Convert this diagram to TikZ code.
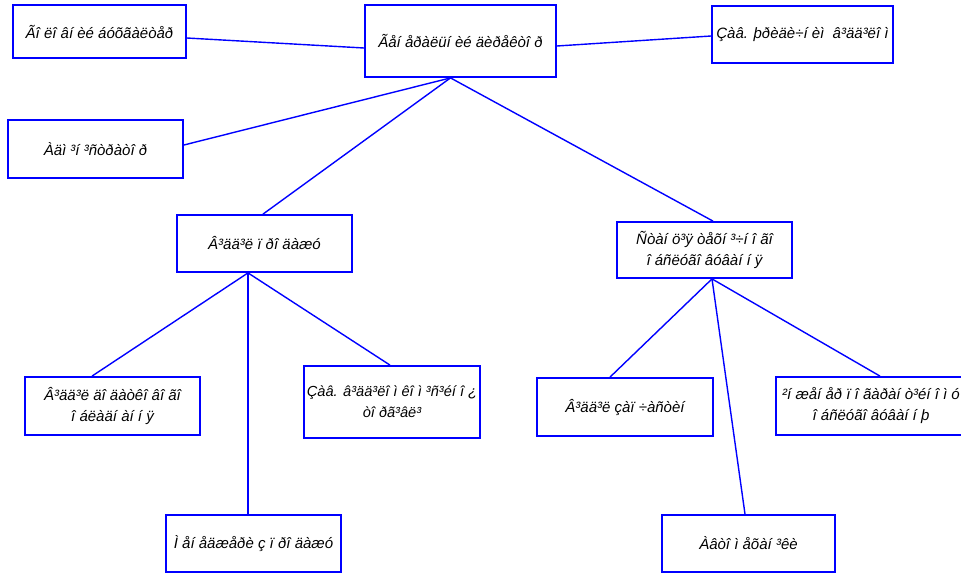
\documentclass[tikz,border=0pt]{standalone}
\usepackage{fontspec}
\setmainfont{Liberation Sans}
\definecolor{bblue}{RGB}{0,0,255}
\tikzset{
  box/.style={draw=bblue, line width=1.8pt, fill=white, inner sep=2pt, align=center,
    font=\fontsize{15}{21}\selectfont\itshape},
  link/.style={draw=bblue, line width=1.4pt}
}
\begin{document}
\begin{tikzpicture}[x=1pt,y=-1pt]
\useasboundingbox (0,0) rectangle (961,574);
\begin{scope}
\clip (0,0) rectangle (961,574);
\node[box, minimum width=173pt, minimum height=53pt] (gb) at (99.5,31.5) {Ãî ëî âí èé áóõãàëòåð};
\node[box, minimum width=191pt, minimum height=72pt] (gd) at (460.5,41) {Ãåí åðàëüí èé äèðåêòî ð};
\node[box, minimum width=181pt, minimum height=57pt] (zu) at (802.5,34.5) {Çàâ. þðèäè÷í èì \ â³ää³ëî ì};
\node[box, minimum width=175pt, minimum height=58pt] (ad) at (95.5,149) {Àäì ³í ³ñòðàòî ð};
\node[box, minimum width=175pt, minimum height=57pt] (vp) at (264.5,243.5) {Â³ää³ë ï ðî äàæó};
\node[box, minimum width=175pt, minimum height=56pt] (sto) at (704.5,250) {Ñòàí ö³ÿ òåõí ³÷í î ãî\\î áñëóãî âóâàí í ÿ};
\node[box, minimum width=175pt, minimum height=58pt] (vd) at (112.5,406) {Â³ää³ë äî äàòêî âî ãî\\î áëàäí àí í ÿ};
\node[box, inner xsep=0pt, minimum width=176pt, minimum height=72pt, font=\fontsize{14.6}{21}\selectfont\itshape] (zk) at (392,402) {Çàâ. â³ää³ëî ì êî ì ³ñ³éí î ¿\\òî ðã³âë³};
\node[box, minimum width=176pt, minimum height=58pt] (vz) at (625,407) {Â³ää³ë çàï ÷àñòèí};
\node[box, minimum width=190pt, minimum height=58pt] (in) at (871,406) {²í æåí åð ï î ãàðàí ò³éí î ì ó\\î áñëóãî âóâàí í þ};
\node[box, minimum width=175pt, minimum height=57pt] (mz) at (253.5,543.5) {Ì åí åäæåðè ç ï ðî äàæó};
\node[box, minimum width=173pt, minimum height=57pt] (am) at (748.5,543.5) {Àâòî ì åõàí ³êè};

\coordinate (gdh) at ([xshift=-10pt]gd.south);
\coordinate (vph) at ([xshift=-16.5pt]vp.south);
\coordinate (stoh) at ([xshift=7.5pt]sto.south);

\path[link] ([yshift=-6.5pt]gb.east) -- ([yshift=-7pt]gd.west);
\path[link] ([yshift=-5pt]gd.east) -- ([yshift=-1.5pt]zu.west);
\path[link] (gdh) -- ([yshift=4pt]ad.east);
\path[link] (gdh) -- ([xshift=-1.5pt]vp.north);
\path[link] (gdh) -- ([xshift=8.5pt]sto.north);
\path[link] (vph) -- ([xshift=-20.5pt]vd.north);
\path[link] (vph) -- ([xshift=-5.5pt]mz.north);
\path[link] (vph) -- ([xshift=-2pt]zk.north);
\path[link] (stoh) -- ([xshift=-15pt]vz.north);
\path[link] (stoh) -- ([xshift=-3.5pt]am.north);
\path[link] (stoh) -- ([xshift=9pt]in.north);
\end{scope}
\end{tikzpicture}
\end{document}
